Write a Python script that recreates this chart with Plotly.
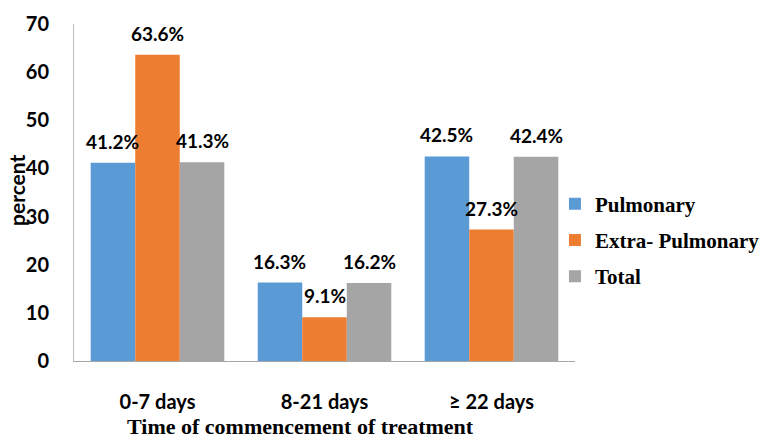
import plotly.graph_objects as go

categories = ["0-7 days", "8-21 days", "≥ 22 days"]
series_names = ["Pulmonary", "Extra- Pulmonary", "Total"]
pulmonary = [41.2, 16.3, 42.5]
extra_pulmonary = [63.6, 9.1, 27.3]
total = [41.3, 16.2, 42.4]
y_ticks = [0, 10, 20, 30, 40, 50, 60, 70]
colors = ["#5B9BD5", "#ED7D31", "#A5A5A5"]

W, H = 764, 439
ML, MR, MT, MB = 74, 189, 24, 78
plot_w = W - ML - MR
plot_h = H - MT - MB
bargap = 0.2
bar_px = plot_w / len(categories) * (1 - bargap) / 3

fig = go.Figure()
all_series = [pulmonary, extra_pulmonary, total]
for name, vals, col in zip(series_names, all_series, colors):
    fig.add_trace(go.Bar(x=categories, y=vals, name=name, marker_color=col,
                         marker_line_width=0, legendgroup=name))

annotations = []
for i, vals in enumerate(all_series):
    for c, v in zip(categories, vals):
        annotations.append(dict(x=c, y=v, xref="x", yref="y", text=f"{v}%",
                                showarrow=False, yanchor="bottom",
                                xshift=(i - 1) * bar_px, yshift=8,
                                font=dict(family="Lato", size=19, color="#000000", weight="bold")))

annotations.append(dict(x=(300 - ML) / plot_w, y=(361 - 426) / plot_h, xref="paper", yref="paper",
                        text="<b>Time of commencement of treatment</b>", showarrow=False,
                        xanchor="center", yanchor="middle",
                        font=dict(family="Liberation Serif", size=22, color="#000000")))
annotations.append(dict(x=(16 - ML) / plot_w, y=(361 - 190) / plot_h, xref="paper", yref="paper",
                        text="<b>percent</b>", showarrow=False, textangle=-90,
                        xanchor="center", yanchor="middle",
                        font=dict(family="Lato", size=21, color="#000000")))

fig.update_layout(
    width=W, height=H,
    margin=dict(l=ML, r=MR, t=MT, b=MB, autoexpand=False),
    plot_bgcolor="white", paper_bgcolor="white",
    barmode="group", bargap=bargap, bargroupgap=0,
    annotations=annotations,
    showlegend=True,
    legend=dict(x=0.96, xanchor="left", y=(361 - 240) / plot_h, yanchor="middle",
                font=dict(family="Liberation Serif", size=21, color="#000000", weight="bold"),
                traceorder="grouped", tracegroupgap=6, bgcolor="rgba(0,0,0,0)"),
    xaxis=dict(showline=True, linecolor="#A6A6A6", linewidth=1, ticks="", showgrid=False,
               tickfont=dict(family="Lato", size=20, color="#000000", weight="bold"),
               ticklabelstandoff=23),
    yaxis=dict(range=[0, 70], tickvals=y_ticks, showline=True, linecolor="#BFBFBF", linewidth=1,
               ticks="", showgrid=False, zeroline=False,
               tickfont=dict(family="Lato", size=20, color="#000000", weight="bold"),
               ticklabelstandoff=20),
)

fig.write_html("out.html")
